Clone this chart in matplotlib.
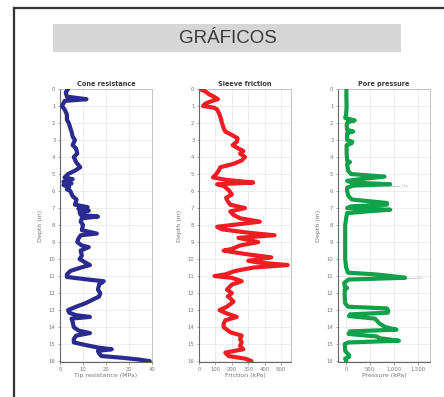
import matplotlib
matplotlib.use("Agg")
import matplotlib.pyplot as plt
from matplotlib.patches import Rectangle
from matplotlib.lines import Line2D
from matplotlib.ticker import FuncFormatter

# ---------------- data ----------------
cone_depth = [0.0, 0.2, 0.45, 0.6, 0.7, 0.85, 1.0, 1.2, 1.5, 1.8, 2.0, 2.3, 2.5, 2.8, 3.0, 3.3, 3.5, 3.8,
              4.0, 4.3, 4.6, 4.8, 5.0, 5.2, 5.3, 5.45, 5.55, 5.65, 5.75, 5.9, 6.0, 6.3, 6.5, 6.8, 6.95,
              7.05, 7.15, 7.25, 7.4, 7.5, 7.6, 7.8, 8.0, 8.3, 8.5, 8.6, 8.8, 9.0, 9.2, 9.3, 9.5, 9.8,
              10.0, 10.2, 10.35, 10.5, 10.7, 10.9, 11.05, 11.2, 11.3, 11.5, 11.8, 12.0, 12.2, 12.4,
              12.6, 12.8, 13.0, 13.15, 13.3, 13.4, 13.5, 13.7, 14.0, 14.2, 14.35, 14.5, 14.7, 14.9,
              15.05, 15.2, 15.3, 15.4, 15.55, 15.7, 15.8, 15.9, 16.0]
cone_qc = [3.5, 2.5, 3.0, 11.5, 2.0, 1.5, 0.8, 2.0, 3.0, 3.0, 3.8, 4.5, 5.0, 5.5, 6.5, 5.5, 7.0, 7.5,
           6.0, 7.0, 8.8, 6.5, 3.5, 2.0, 5.5, 1.5, 5.0, 1.5, 4.0, 3.0, 4.5, 5.5, 7.2, 6.5, 12.0,
           8.0, 12.5, 8.5, 9.0, 16.5, 9.5, 9.0, 10.0, 9.5, 16.0, 9.0, 8.0, 7.5, 9.5, 12.5, 9.0, 9.5,
           8.5, 11.0, 13.0, 9.0, 4.5, 3.0, 3.0, 12.0, 19.0, 17.0, 16.5, 17.5, 17.0, 14.0,
           11.0, 7.0, 3.5, 4.0, 7.0, 13.0, 5.0, 5.5, 6.0, 8.0, 13.0, 7.0, 6.0, 6.0,
           11.0, 16.5, 22.5, 16.5, 17.0, 18.0, 27.0, 34.0, 39.0]

fric_depth = [0.0, 0.15, 0.3, 0.45, 0.6, 0.7, 0.85, 1.0, 1.1, 1.2, 1.5, 1.8, 2.0, 2.3, 2.5, 2.7, 2.9,
              3.1, 3.3, 3.5, 3.65, 3.8, 4.0, 4.2, 4.4, 4.6, 4.8, 5.0, 5.2, 5.35, 5.5, 5.6, 5.7, 5.85,
              6.0, 6.2, 6.4, 6.6, 6.8, 7.0, 7.2, 7.4, 7.6, 7.8, 7.95, 8.1, 8.25, 8.45, 8.6, 8.75,
              9.0, 9.2, 9.4, 9.5, 9.7, 9.9, 10.1, 10.2, 10.35, 10.5, 10.7, 10.9, 11.0, 11.1, 11.3,
              11.5, 11.8, 12.0, 12.2, 12.3, 12.5, 12.8, 13.0, 13.2, 13.4, 13.6, 13.8, 14.0, 14.3,
              14.5, 14.7, 14.9, 15.1, 15.3, 15.5, 15.7, 15.85, 16.0]
fric_fs = [5, 40, 60, 90, 115, 80, 40, 25, 90, 110, 125, 135, 140, 150, 160, 200, 235,
           230, 205, 240, 270, 250, 280, 260, 210, 130, 120, 105, 85, 170, 330, 110, 150, 170,
           185, 200, 165, 175, 190, 280, 190, 210, 250, 370, 240, 110, 140, 300, 460, 240,
           360, 250, 200, 150, 280, 440, 300, 360, 540, 330, 220, 160, 95, 200, 260,
           200, 170, 200, 175, 190, 210, 170, 125, 170, 230, 160, 150, 150, 190,
           260, 250, 260, 250, 270, 160, 180, 280, 320]

pore_depth = [0.0, 0.5, 1.0, 1.5, 1.7, 1.85, 1.95, 2.1, 2.4, 2.5, 2.6, 3.0, 3.1, 3.2, 3.3, 3.8, 4.2,
              4.3, 4.4, 4.8, 5.0, 5.15, 5.3, 5.4, 5.5, 5.6, 5.68, 5.8, 6.0, 6.3, 6.5, 6.7, 6.8, 6.9,
              7.0, 7.1, 7.18, 7.3, 7.6, 8.0, 9.0, 10.0, 10.5, 10.8, 10.9, 11.0, 11.1, 11.2, 11.4,
              11.6, 11.7, 11.8, 12.2, 12.6, 12.8, 12.9, 13.05, 13.15, 13.25, 13.35, 13.5, 13.65,
              13.8, 14.0, 14.15, 14.25, 14.4, 14.55, 14.65, 14.8, 14.9, 15.0, 15.4, 15.65, 15.75,
              15.85, 16.0]
pore_u = [5, 5, 10, 0, -20, 180, 30, 10, 20, 150, 20, 20, 130, 110, 10, 10, 20,
          80, 20, 40, 100, 800, 300, 20, 120, 920, 150, 20, 20, 50, 120, 850, 850, 100,
          20, 920, 500, 20, 0, -20, -20, -20, 0, 40, 620, 950, 1230, 50, -40,
          -30, 20, -30, -30, -20, 40, 850, 880, 870, 80, 60, 600, 650,
          700, 820, 1050, 80, 50, 640, 700, 1100, 50, -30, -20, 60, 60,
          -20, 0]

dw_depth = [5.68, 11.1]
dw_start = [940, 1260]
dw_end = [1130, 1450]
dw_label = "Dw"

titles = ["Cone resistance", "Sleeve friction", "Pore pressure"]
xlabels = ["Tip resistance (MPa)", "Friction (kPa)", "Pressure (kPa)"]
depth_ticks = list(range(0, 17))
xticks = [[0, 10, 20, 30, 40], [0, 100, 200, 300, 400, 500], [0, 500, 1000, 1500]]
xlims = [(0, 40), (0, 560), (-170, 1750)]
colors = ["#2b2a8e", "#ee1d23", "#12a04a"]

# ---------------- figure ----------------
fig = plt.figure(figsize=(4.44, 3.97), dpi=100)
fig.patch.set_facecolor("white")

# outer frame (top and left edges)
fig.add_artist(Line2D([14 / 444, 1.0], [1 - 8 / 397, 1 - 8 / 397], transform=fig.transFigure,
                      color="#333333", lw=1.6))
fig.add_artist(Line2D([14 / 444, 14 / 444], [0.0, 1 - 8 / 397], transform=fig.transFigure,
                      color="#333333", lw=1.6))

# banner
fig.add_artist(Rectangle((53 / 444, 1 - 52 / 397), 348 / 444, 28 / 397, transform=fig.transFigure,
                         facecolor="#d6d6d6", edgecolor="none"))
fig.text(228 / 444, 1 - 38.5 / 397, "GRÁFICOS", ha="center", va="center", fontsize=13.5,
         color="#3a3a3a", family="Liberation Sans")

lefts = [60 / 444, 199 / 444, 338 / 444]
width = 92 / 444
bottom = 1 - 362 / 397
height = 273 / 397

series = [(cone_qc, cone_depth), (fric_fs, fric_depth), (pore_u, pore_depth)]

for i, (vals, dep) in enumerate(series):
    ax = fig.add_axes([lefts[i], bottom, width, height])
    ax.plot(vals, dep, color=colors[i], lw=3.0, solid_joinstyle="round", solid_capstyle="round",
            zorder=3)
    ax.set_xlim(*xlims[i])
    ax.set_ylim(16.05, 0)
    ax.set_yticks(depth_ticks)
    ax.set_xticks(xticks[i])
    ax.grid(True, color="#e6e6e6", lw=0.5, zorder=0)
    ax.set_axisbelow(True)
    ax.tick_params(axis="both", labelsize=3.8, labelcolor="#777777", color="#888888",
                   length=1.8, width=0.5, pad=1.5)
    for side in ["top", "right"]:
        ax.spines[side].set_color("#bbbbbb")
        ax.spines[side].set_linewidth(0.6)
    for side in ["left", "bottom"]:
        ax.spines[side].set_color("#666666")
        ax.spines[side].set_linewidth(0.8)
    ax.set_title(titles[i], fontsize=4.7, fontweight="bold", color="#3a3a3a", pad=2.5)
    ax.set_xlabel(xlabels[i], fontsize=4.5, color="#777777", labelpad=1)
    ax.set_ylabel("Depth (m)", fontsize=4.5, color="#777777", labelpad=4)
    if i == 2:
        ax.xaxis.set_major_formatter(FuncFormatter(lambda v, p: f"{int(v):,}"))
        for d, s, e in zip(dw_depth, dw_start, dw_end):
            ax.plot([s, e], [d, d], color="#b9c6d2", lw=0.6, zorder=2)
            ax.text(e + 30, d, dw_label, fontsize=3.2, color="#b9c6d2", va="center", ha="left")

fig.savefig("out.png", dpi=100, facecolor="white")
